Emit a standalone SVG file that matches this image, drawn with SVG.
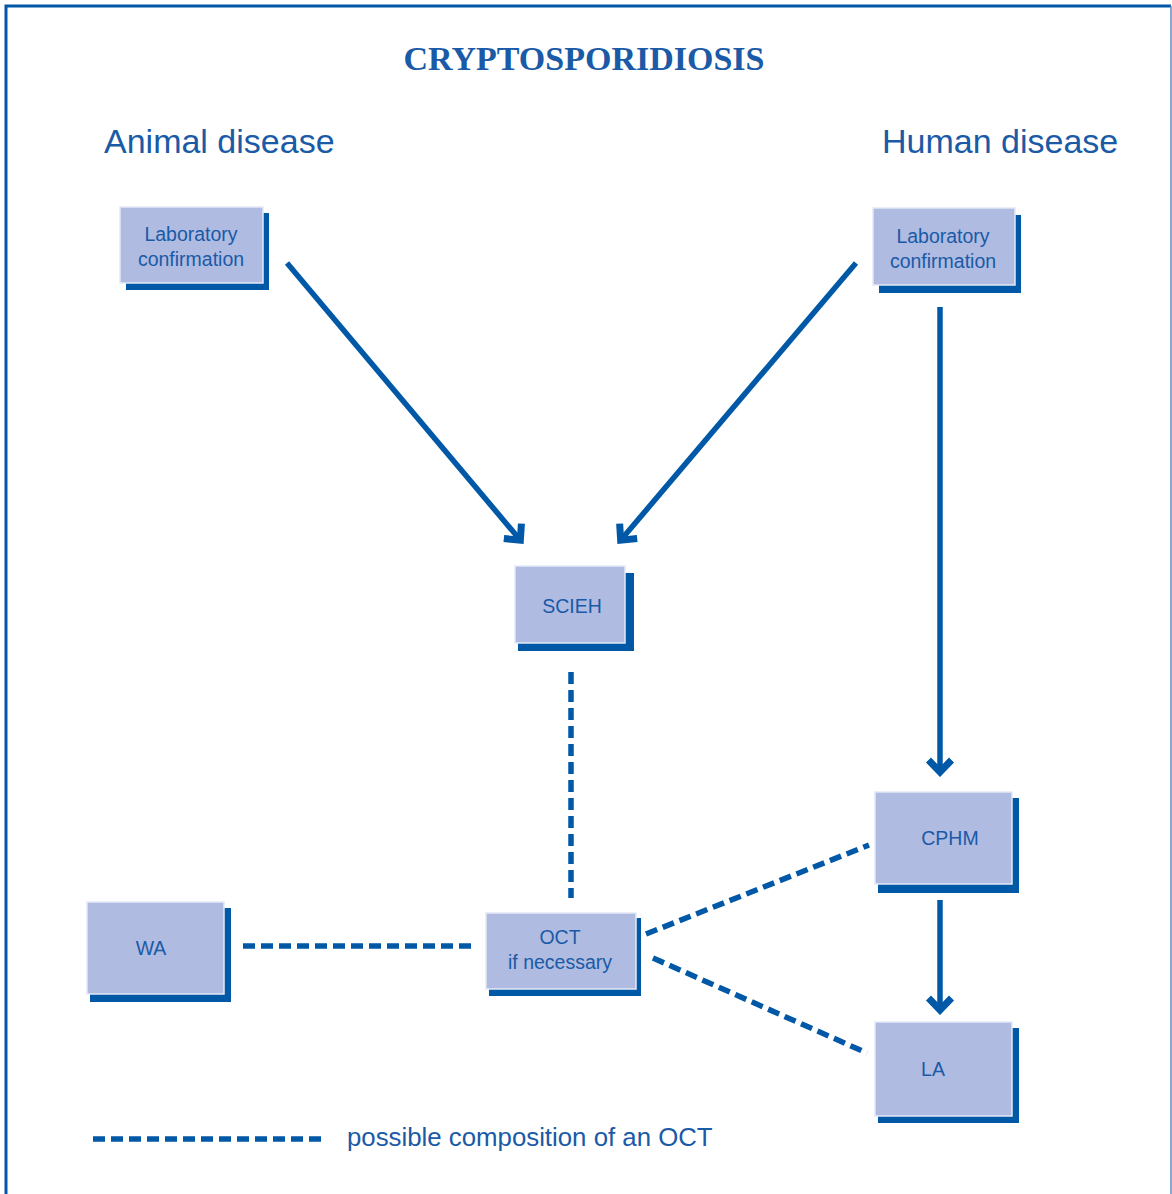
<svg xmlns="http://www.w3.org/2000/svg" width="1172" height="1194" viewBox="0 0 1172 1194">
  <style>
    .box { fill: #afbbe1; stroke: #e4e9f6; stroke-width: 1.5; }
    .shadow { fill: #0058a6; }
    .label { font-family: "Liberation Sans", Arial, sans-serif; font-size: 19.5px; fill: #1a5aa6; text-anchor: middle; }
    .head { font-family: "Liberation Sans", Arial, sans-serif; font-size: 34px; fill: #1a5aa6; }
    .title { font-family: "Liberation Serif", "Times New Roman", serif; font-size: 34px; font-weight: bold; fill: #1a5aa6; text-anchor: middle; }
    .solid { fill: none; stroke: #0058a6; stroke-width: 5.5; marker-end: url(#arrow); }
    .dash { fill: none; stroke: #0058a6; stroke-width: 5.5; stroke-dasharray: 12 6; }
  </style>
  <defs>
    <!-- thick barbed arrowhead shared by the solid connectors -->
    <marker id="arrow" markerUnits="userSpaceOnUse" viewBox="-18 -16 22 32" refX="0" refY="0" markerWidth="22" markerHeight="32" orient="auto">
      <path d="M-13,-11.5 L-1,0 L-13,11.5" fill="none" stroke="#0058a6" stroke-width="7" stroke-linejoin="miter"/>
    </marker>
  </defs>

  <!-- frame -->
  <path d="M6,1194 V6 H1171" fill="none" stroke="#0058a6" stroke-width="3"/>
  <path d="M1171,6 V1194" fill="none" stroke="#5e8fc4" stroke-width="1.5"/>

  <text class="title" x="584" y="70">CRYPTOSPORIDIOSIS</text>
  <text class="head" x="104" y="153">Animal disease</text>
  <text class="head" x="882" y="153">Human disease</text>

  <g id="connectors">
    <path class="solid" d="M287,263 L521,541"/>
    <path class="solid" d="M856,263 L620,541"/>
    <path class="solid" d="M940,307 V773"/>
    <path class="solid" d="M940,900 V1011"/>
    <path class="dash" d="M571,672 V898"/>
    <path class="dash" d="M243,946 H475"/>
    <path class="dash" d="M646,934 L869,845"/>
    <path class="dash" d="M653,958 L867,1053"/>
  </g>

  <g id="lab-animal">
    <rect class="shadow" x="126" y="213" width="143" height="77"/>
    <rect class="box" x="120" y="207" width="143" height="76"/>
    <text class="label" x="191" y="241">Laboratory</text>
    <text class="label" x="191" y="266">confirmation</text>
  </g>
  <g id="lab-human">
    <rect class="shadow" x="879" y="215" width="142" height="78"/>
    <rect class="box" x="873" y="208" width="142" height="77"/>
    <text class="label" x="943" y="243">Laboratory</text>
    <text class="label" x="943" y="268">confirmation</text>
  </g>
  <g id="scieh">
    <rect class="shadow" x="518" y="573" width="116" height="78"/>
    <rect class="box" x="515" y="566" width="110" height="77"/>
    <text class="label" x="572" y="613">SCIEH</text>
  </g>
  <g id="wa">
    <rect class="shadow" x="90" y="908" width="141" height="94"/>
    <rect class="box" x="87" y="902" width="137" height="92"/>
    <text class="label" x="151" y="955">WA</text>
  </g>
  <g id="oct">
    <rect class="shadow" x="489" y="918" width="152" height="78"/>
    <rect class="box" x="486" y="913" width="150" height="76"/>
    <text class="label" x="560" y="944">OCT</text>
    <text class="label" x="560" y="969">if necessary</text>
  </g>
  <g id="cphm">
    <rect class="shadow" x="878" y="798" width="141" height="95"/>
    <rect class="box" x="875" y="792" width="137" height="92"/>
    <text class="label" x="950" y="845">CPHM</text>
  </g>
  <g id="la">
    <rect class="shadow" x="878" y="1028" width="141" height="95"/>
    <rect class="box" x="875" y="1022" width="137" height="94"/>
    <text class="label" x="933" y="1076">LA</text>
  </g>

  <g id="legend">
    <path class="dash" d="M93,1139 H325"/>
    <text x="347" y="1146" font-family="Liberation Sans, Arial, sans-serif" font-size="25.8" fill="#1a5aa6">possible composition of an OCT</text>
  </g>
</svg>
